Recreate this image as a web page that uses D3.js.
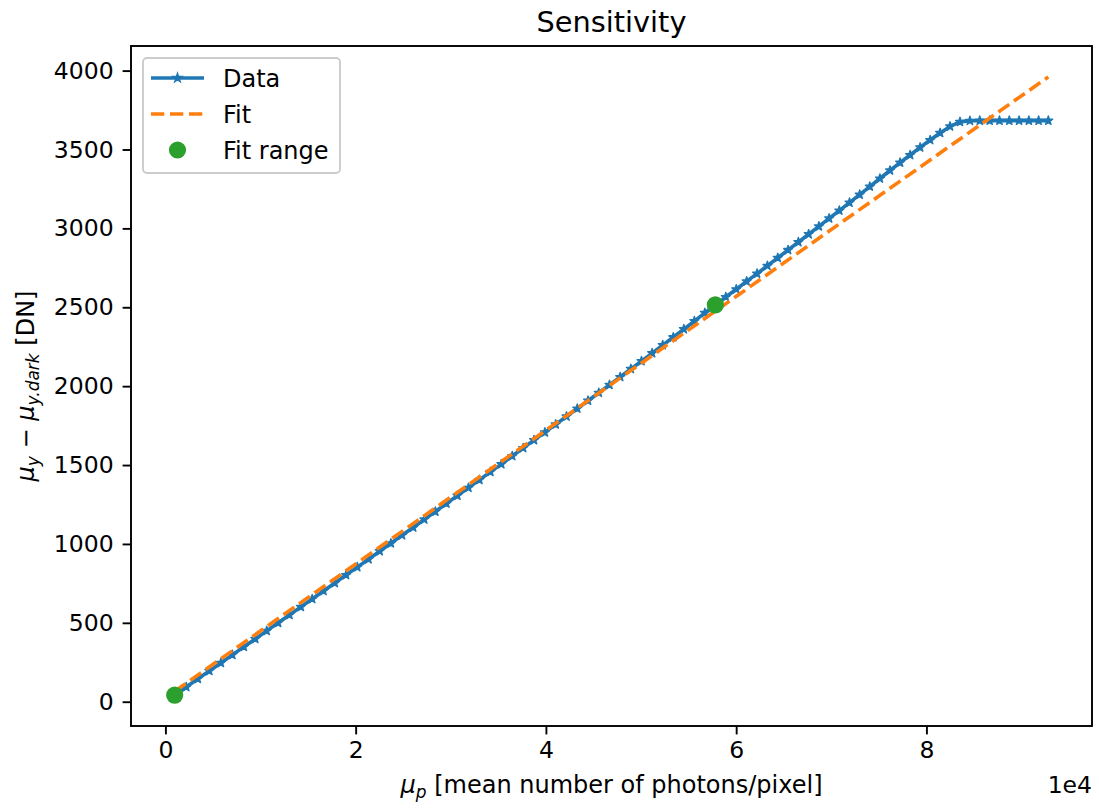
<!DOCTYPE html>
<html>
<head>
<meta charset="utf-8">
<script src="https://cdn.jsdelivr.net/npm/d3@7/dist/d3.min.js"></script>
<style>
body { margin: 0; background: #fff; }
text { font-family: "DejaVu Sans", sans-serif; fill: #000; }
</style>
</head>
<body>
<div id="chart"></div>
<script>
// mean number of photons per pixel (x) and mean signal minus dark (y, DN)
var photons = [976, 2194, 3410, 4623, 5834, 7042, 8248, 9451, 10652, 11851,
  13047, 14241, 15432, 16621, 17808, 18992, 20174, 21353, 22530, 23704,
  24876, 26046, 27213, 28378, 29540, 30700, 31857, 33013, 34165, 35316,
  36463, 37609, 38752, 39892, 41030, 42166, 43299, 44430, 45559, 46685,
  47808, 48930, 50048, 51165, 52279, 53390, 54499, 55606, 56710, 57812,
  58912, 60009, 61103, 62195, 63285, 64372, 65457, 66540, 67620, 68697,
  69773, 70845, 71916, 72984, 74049, 75112, 76173, 77231, 78287, 79341,
  80392, 81440, 82486, 83530, 84572, 85611, 86647, 87681, 88713, 89742,
  90769, 91793, 92815];
var signal = [42, 93, 145, 195, 246, 297, 348, 398, 449, 500,
  550, 601, 651, 702, 752, 803, 853, 903, 954, 1004,
  1055, 1104, 1155, 1205, 1256, 1306, 1356, 1406, 1457, 1506,
  1557, 1608, 1658, 1707, 1758, 1808, 1858, 1908, 1958, 2008,
  2058, 2109, 2159, 2209, 2260, 2310, 2361, 2412, 2464, 2515,
  2565, 2614, 2664, 2713, 2763, 2813, 2863, 2913, 2963, 3013,
  3063, 3113, 3163, 3214, 3265, 3316, 3367, 3417, 3465, 3513,
  3560, 3605, 3646, 3675, 3682, 3683, 3683, 3683, 3683, 3683,
  3683, 3683, 3683];
// fitted line end points
var fitX = [976, 92815];
var fitY = [66, 3960];
// indices of the first and last point used for the fit
var fitRange = [0, 49];
var xTicks = [0, 20000, 40000, 60000, 80000];
var yTicks = [0, 500, 1000, 1500, 2000, 2500, 3000, 3500, 4000];

var width = 1099, height = 809;
var margin = {left: 131, top: 46, right: 7, bottom: 83};
var w = width - margin.left - margin.right,
    h = height - margin.top - margin.bottom;

var blue = "#1f77b4", orange = "#ff7f0e", green = "#2ca02c";

function padded(ext) {
  var s = ext[1] - ext[0];
  return [ext[0] - 0.05 * s, ext[1] + 0.05 * s];
}

var x = d3.scaleLinear()
    .domain(padded(d3.extent(photons.concat(fitX))))
    .range([0, w]);
var y = d3.scaleLinear()
    .domain(padded(d3.extent(signal.concat(fitY))))
    .range([h, 0]);

var svg = d3.select("#chart").append("svg")
    .attr("width", width)
    .attr("height", height);

var g = svg.append("g")
    .attr("transform", "translate(" + margin.left + "," + margin.top + ")");

svg.append("defs").append("clipPath").attr("id", "clip")
  .append("rect").attr("width", w).attr("height", h);

var plot = g.append("g").attr("clip-path", "url(#clip)");

var pts = photons.map(function(p, i) { return [p, signal[i]]; });
var line = d3.line()
    .x(function(d) { return x(d[0]); })
    .y(function(d) { return y(d[1]); });

plot.append("path")
    .datum(pts)
    .attr("d", line)
    .attr("fill", "none")
    .attr("stroke", blue)
    .attr("stroke-width", 3.6)
    .attr("stroke-linejoin", "round");

var star = d3.symbol().type(d3.symbolStar).size(24);
plot.selectAll(".marker")
  .data(pts)
  .enter().append("path")
    .attr("class", "marker")
    .attr("transform", function(d) { return "translate(" + x(d[0]) + "," + y(d[1]) + ")"; })
    .attr("d", star)
    .attr("fill", blue)
    .attr("stroke", blue)
    .attr("stroke-width", 1.4)
    .attr("stroke-linejoin", "round");

plot.append("path")
    .datum(fitX.map(function(v, i) { return [v, fitY[i]]; }))
    .attr("d", line)
    .attr("fill", "none")
    .attr("stroke", orange)
    .attr("stroke-width", 3.6)
    .attr("stroke-dasharray", "13.3,5.7");

plot.selectAll(".range")
  .data(fitRange)
  .enter().append("circle")
    .attr("class", "range")
    .attr("cx", function(i) { return x(photons[i]); })
    .attr("cy", function(i) { return y(signal[i]); })
    .attr("r", 8.6)
    .attr("fill", green);

// axes
var xAxis = g.append("g")
    .attr("transform", "translate(0," + h + ")")
    .call(d3.axisBottom(x).tickValues(xTicks).tickSize(8.4).tickPadding(7)
      .tickFormat(function(d) { return d / 1e4; }));
var yAxis = g.append("g")
    .call(d3.axisLeft(y).tickValues(yTicks).tickSize(8.4).tickPadding(9)
      .tickFormat(d3.format("d")));

[xAxis, yAxis].forEach(function(a) {
  a.select(".domain").remove();
  a.selectAll(".tick line").attr("stroke", "#000").attr("stroke-width", 1.9);
  a.selectAll(".tick text").attr("font-size", 23.5).attr("font-family", "DejaVu Sans").attr("fill", "#000");
});

g.append("rect")
    .attr("width", w)
    .attr("height", h)
    .attr("fill", "none")
    .attr("stroke", "#000")
    .attr("stroke-width", 1.9);

// offset text
g.append("text")
    .attr("x", w)
    .attr("y", h + 67)
    .attr("text-anchor", "end")
    .attr("font-size", 23.5)
    .text("1e4");

// title
g.append("text")
    .attr("x", w / 2)
    .attr("y", -14)
    .attr("text-anchor", "middle")
    .attr("font-size", 28.8)
    .text("Sensitivity");

// x label
var xl = g.append("text")
    .attr("x", w / 2)
    .attr("y", h + 67)
    .attr("text-anchor", "middle")
    .attr("font-size", 24);
xl.append("tspan").attr("font-style", "italic").text("\u03bc");
xl.append("tspan").attr("font-style", "italic").attr("font-size", 17).attr("dy", 5).text("p");
xl.append("tspan").attr("dy", -5).text(" [mean number of photons/pixel]");

// y label
var yl = svg.append("text")
    .attr("transform", "translate(34," + (margin.top + h / 2) + ") rotate(-90)")
    .attr("text-anchor", "middle")
    .attr("font-size", 24);
yl.append("tspan").attr("font-style", "italic").text("\u03bc");
yl.append("tspan").attr("font-style", "italic").attr("font-size", 17).attr("dy", 5).text("y");
yl.append("tspan").attr("dy", -5).text(" \u2212 ");
yl.append("tspan").attr("font-style", "italic").text("\u03bc");
yl.append("tspan").attr("font-style", "italic").attr("font-size", 17).attr("dy", 5).text("y.dark");
yl.append("tspan").attr("dy", -5).text(" [DN]");

// legend
var legend = g.append("g").attr("transform", "translate(12,12)");
legend.append("rect")
    .attr("width", 197)
    .attr("height", 115)
    .attr("rx", 4)
    .attr("fill", "#fff")
    .attr("fill-opacity", 0.8)
    .attr("stroke", "#cccccc")
    .attr("stroke-width", 1.9);

var items = ["Data", "Fit", "Fit range"];
items.forEach(function(name, i) {
  var row = legend.append("g").attr("transform", "translate(0," + (20 + i * 36) + ")");
  if (i === 0) {
    row.append("line").attr("x1", 8).attr("x2", 61)
      .attr("stroke", blue).attr("stroke-width", 3.6);
    row.append("path").attr("transform", "translate(34.5,0)").attr("d", star)
      .attr("fill", blue).attr("stroke", blue).attr("stroke-width", 1.4);
  } else if (i === 1) {
    row.append("line").attr("x1", 8).attr("x2", 61)
      .attr("stroke", orange).attr("stroke-width", 3.6)
      .attr("stroke-dasharray", "13.3,5.7");
  } else {
    row.append("circle").attr("cx", 34.5).attr("r", 8.6).attr("fill", green);
  }
  row.append("text")
    .attr("x", 80)
    .attr("y", 8.5)
    .attr("font-size", 24)
    .text(name);
});
</script>
</body>
</html>
